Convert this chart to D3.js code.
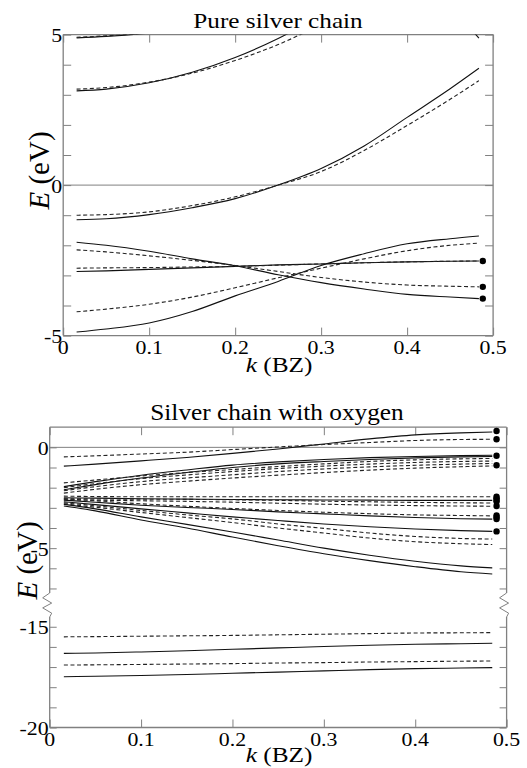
<!DOCTYPE html>
<html><head><meta charset="utf-8">
<script src="https://cdn.jsdelivr.net/npm/d3@7"></script>
<style>
body{margin:0;background:#fff}
svg{display:block}
.lbl{font-family:"Liberation Serif",serif}
</style>
</head><body><svg id="c" width="527" height="768"></svg>
<script>
// ---------- DATA ----------
const kTicks = [0, 0.1, 0.2, 0.3, 0.4, 0.5];
const kTickLabels = ["0", "0.1", "0.2", "0.3", "0.4", "0.5"];
const pureYTicks = [5, 4, 3, 2, 1, 0, -1, -2, -3, -4, -5];
const pureYLabels = [5, 0, -5];
const oxyYTicks = [0, -1, -2, -3, -4, -5, -6, -7, -15, -16, -17, -18, -19, -20];
const oxyYLabels = [0, -5, -15, -20];

// Pure silver chain: bands sampled on pureK
const pureK = [0.0156, 0.05, 0.1, 0.15, 0.2, 0.25, 0.3, 0.35, 0.4, 0.45, 0.4835];
const pureA_solid  = [4.89, 4.94, 5.05, 5.2, null, null, null, null, null, null, null];
const pureA_dash   = [4.91, 4.96, 5.06, 5.2, null, null, null, null, null, null, null];
const pureB_solid  = [3.13, 3.19, 3.40, 3.75, 4.24, 4.87, 5.64, null, null, null, null];
const pureB_dash   = [3.19, 3.24, 3.42, 3.72, 4.14, 4.67, 5.33, null, null, null, null];
const pureC_solid  = [-1.15, -1.12, -0.98, -0.75, -0.45, 0.0, 0.55, 1.3, 2.25, 3.2, 3.88];
const pureC_dash   = [-1.0, -0.98, -0.89, -0.68, -0.39, 0.0, 0.45, 1.15, 1.98, 2.85, 3.47];
const pureD_solid  = [-1.90, -2.0, -2.2, -2.45, -2.68, -2.98, -3.24, -3.45, -3.63, -3.72, -3.77];
const pureD_dash   = [-2.15, -2.22, -2.35, -2.5, -2.67, -2.87, -3.07, -3.22, -3.32, -3.36, -3.38];
const pureE_solid  = [-2.87, -2.85, -2.8, -2.75, -2.70, -2.65, -2.62, -2.58, -2.55, -2.53, -2.52];
const pureE_dash   = [-2.76, -2.75, -2.74, -2.72, -2.70, -2.66, -2.62, -2.58, -2.55, -2.53, -2.52];
const pureF_solid  = [-4.88, -4.78, -4.58, -4.2, -3.68, -3.2, -2.67, -2.28, -1.95, -1.78, -1.69];
const pureF_dash   = [-4.21, -4.12, -3.96, -3.72, -3.41, -3.08, -2.76, -2.45, -2.18, -2.0, -1.93];
const pureG_solid  = [null, null, null, null, null, null, null, null, null, 6.0, 4.88];
const pureDotK = 0.488;
const pureDotE = [-2.52, -3.38, -3.77];

// Silver chain with oxygen: bands sampled on oxyK
const oxyK = [0.0155, 0.05, 0.1, 0.15, 0.2, 0.25, 0.3, 0.35, 0.4, 0.45, 0.4843];
const oxyU1_solid = [-0.93, -0.83, -0.67, -0.5, -0.3, -0.08, 0.17, 0.42, 0.62, 0.72, 0.76];
const oxyU2_dash  = [-0.47, -0.42, -0.33, -0.24, -0.11, 0.02, 0.14, 0.24, 0.34, 0.39, 0.40];
const oxyR1_solid = [-1.95, -1.7, -1.38, -1.12, -0.88, -0.72, -0.6, -0.51, -0.45, -0.41, -0.39];
const oxyR2_solid = [-2.1, -1.85, -1.52, -1.25, -1.0, -0.82, -0.7, -0.6, -0.52, -0.47, -0.45];
const oxyR3_dash  = [-1.76, -1.62, -1.42, -1.25, -1.1, -0.95, -0.82, -0.7, -0.62, -0.57, -0.55];
const oxyR4_dash  = [-2.0, -1.8, -1.55, -1.37, -1.2, -1.05, -0.93, -0.83, -0.75, -0.7, -0.68];
const oxyR5_dash  = [-2.15, -1.95, -1.7, -1.52, -1.36, -1.2, -1.07, -0.97, -0.89, -0.83, -0.8];
const oxyR6_dash  = [-2.27, -2.08, -1.85, -1.68, -1.52, -1.38, -1.25, -1.13, -1.03, -0.96, -0.92];
const oxyF1_dash  = [-2.42, -2.44, -2.45, -2.45, -2.45, -2.45, -2.45, -2.45, -2.45, -2.45, -2.45];
const oxyF2_solid = [-2.5, -2.52, -2.55, -2.57, -2.59, -2.6, -2.61, -2.62, -2.63, -2.63, -2.63];
const oxyF3_dash  = [-2.55, -2.56, -2.57, -2.58, -2.6, -2.63, -2.67, -2.7, -2.73, -2.75, -2.76];
const oxyF4_dash  = [-2.6, -2.62, -2.65, -2.68, -2.72, -2.77, -2.82, -2.86, -2.89, -2.91, -2.92];
const oxyD1_dash  = [-2.55, -2.65, -2.8, -2.92, -3.03, -3.13, -3.22, -3.29, -3.35, -3.38, -3.40];
const oxyD2_solid = [-2.62, -2.72, -2.87, -2.98, -3.08, -3.2, -3.3, -3.4, -3.48, -3.54, -3.56];
const oxyD3_solid = [-2.7, -2.84, -3.05, -3.25, -3.45, -3.63, -3.8, -3.94, -4.05, -4.13, -4.17];
const oxyD4_dash  = [-2.75, -2.9, -3.13, -3.35, -3.55, -3.8, -4.02, -4.25, -4.42, -4.52, -4.55];
const oxyD5_dash  = [-2.8, -2.97, -3.23, -3.48, -3.73, -4.0, -4.25, -4.5, -4.68, -4.78, -4.82];
const oxyS1_solid = [-2.83, -3.05, -3.45, -3.82, -4.2, -4.6, -5.0, -5.35, -5.65, -5.88, -5.98];
const oxyS2_solid = [-2.91, -3.15, -3.6, -4.0, -4.45, -4.88, -5.28, -5.62, -5.92, -6.17, -6.28];
const oxyL1_dash  = [-15.5, -15.49, -15.47, -15.45, -15.43, -15.4, -15.37, -15.34, -15.31, -15.3, -15.29];
const oxyL2_solid = [-16.32, -16.3, -16.25, -16.19, -16.12, -16.05, -15.98, -15.92, -15.87, -15.84, -15.82];
const oxyL3_dash  = [-16.9, -16.89, -16.87, -16.85, -16.83, -16.8, -16.78, -16.75, -16.73, -16.71, -16.7];
const oxyL4_solid = [-17.48, -17.46, -17.42, -17.37, -17.31, -17.25, -17.19, -17.13, -17.08, -17.05, -17.03];
const oxyDotK = 0.489;
const oxyDotE = [0.81, 0.40, -0.42, -0.89, -2.45, -2.53, -2.61, -2.69, -2.91, -3.38, -3.47, -3.56, -4.17];

// ---------- DRAWING ----------
const FONT = "Liberation Serif";
const svg = d3.select("#c");
const FRAME = "#808080";
const INK = "#111";
const DASH = "4,2.6";

function txt(x, y, s, size, anchor, sx) {
  return svg.append("text")
    .attr("class", "lbl")
    .attr("transform", `translate(${x},${y}) scale(${sx},1)`)
    .attr("text-anchor", anchor)
    .attr("font-family", FONT)
    .style("font-family", "'Liberation Serif', serif")
    .attr("font-size", size)
    .attr("fill", "#000")
    .text(s);
}

function bandList(k, arr) {
  return arr.map(([vals, dashed]) => ({ pts: k.map((kk, i) => [kk, vals[i]]), dashed }));
}

function drawPanel(cfg) {
  const { x, y, L, R, T, B, bands, dotK, dotE, yTicks, yLabels, id, breakAxis } = cfg;
  const g = svg.append("g");
  svg.append("clipPath").attr("id", id).append("rect")
    .attr("x", L).attr("y", T).attr("width", R - L).attr("height", B - T);

  const tk = 8;
  g.append("g").attr("transform", `translate(0,${B})`)
    .call(d3.axisBottom(x).tickValues(kTicks).tickSize(-tk).tickFormat(""));
  g.append("g").attr("transform", `translate(0,${T})`)
    .call(d3.axisTop(x).tickValues(kTicks).tickSize(-tk).tickFormat(""));
  g.append("g").attr("transform", `translate(${L},0)`)
    .call(d3.axisLeft(y).tickValues(yTicks).tickSize(-cfg.ytk).tickFormat(""));
  g.append("g").attr("transform", `translate(${R},0)`)
    .call(d3.axisRight(y).tickValues(yTicks).tickSize(-cfg.ytk).tickFormat(""));
  g.selectAll(".domain").remove();
  g.selectAll(".tick line").attr("stroke", FRAME).attr("stroke-width", 1);

  g.append("line").attr("x1", L).attr("x2", R).attr("y1", y(0)).attr("y2", y(0))
    .attr("stroke", FRAME).attr("stroke-width", 1);

  const fr = g.append("g").attr("fill", "none").attr("stroke", FRAME).attr("stroke-width", 1.3);
  fr.append("line").attr("x1", L).attr("x2", R).attr("y1", T).attr("y2", T);
  fr.append("line").attr("x1", L).attr("x2", R).attr("y1", B).attr("y2", B);
  if (!breakAxis) {
    fr.append("line").attr("x1", L).attr("x2", L).attr("y1", T).attr("y2", B);
    fr.append("line").attr("x1", R).attr("x2", R).attr("y1", T).attr("y2", B);
  } else {
    const yb1 = breakAxis.y1, yb2 = breakAxis.y2;
    [L, R].forEach(X => {
      fr.append("line").attr("x1", X).attr("x2", X).attr("y1", T).attr("y2", yb1);
      fr.append("line").attr("x1", X).attr("x2", X).attr("y1", yb2).attr("y2", B);
      const h = (yb2 - yb1);
      const pts = [[X, yb1], [X - 7, yb1 + h * 0.2], [X + 2, yb1 + h * 0.42], [X - 7, yb1 + h * 0.62], [X + 2, yb1 + h * 0.84], [X, yb2]];
      fr.append("path").attr("d", d3.line()(pts)).attr("stroke-width", 1);
    });
  }

  const line = d3.line().defined(d => d[1] != null)
    .x(d => x(d[0])).y(d => y(d[1])).curve(d3.curveMonotoneX);
  const lg = svg.append("g").attr("clip-path", `url(#${id})`);
  lg.selectAll("path").data(bands).join("path")
    .attr("d", d => line(d.pts))
    .attr("fill", "none")
    .attr("stroke", d => d.dashed ? "#222" : INK)
    .attr("stroke-width", 1.1)
    .attr("stroke-dasharray", d => d.dashed ? DASH : null);

  svg.append("g").selectAll("circle").data(dotE).join("circle")
    .attr("cx", x(dotK)).attr("cy", d => y(d)).attr("r", 3.2).attr("fill", "#000");

  kTicks.forEach((kv, i) => txt(x(kv), B + 18, kTickLabels[i], 19, "middle", 1.15));
  yLabels.forEach(v => txt(L - 1, y(v) + 7.5, String(v), 19, "end", 1.15));
}

// ---------- Panel 1 ----------
const p1 = { L: 63.2, R: 493.1, T: 34.6, B: 335.6 };
const x1 = d3.scaleLinear().domain([0, 0.5]).range([p1.L, p1.R]);
const y1 = d3.scaleLinear().domain([-5, 5]).range([p1.B, p1.T]);
drawPanel({
  ...p1, x: x1, y: y1, id: "clip1", ytk: 8,
  yTicks: pureYTicks, yLabels: pureYLabels, dotK: pureDotK, dotE: pureDotE,
  bands: bandList(pureK, [
    [pureA_solid, false], [pureA_dash, true], [pureB_solid, false], [pureB_dash, true],
    [pureC_solid, false], [pureC_dash, true], [pureD_solid, false], [pureD_dash, true],
    [pureE_solid, false], [pureE_dash, true], [pureF_solid, false], [pureF_dash, true],
    [pureG_solid, false]
  ])
});

// ---------- Panel 2 ----------
const p2 = { L: 49.7, R: 506.6, T: 427.2, B: 727.5 };
const x2 = d3.scaleLinear().domain([0, 0.5]).range([p2.L, p2.R]);
const y2 = d3.scaleLinear().domain([1, -7.9, -14, -20]).range([p2.T, 606.6, 606.6, p2.B]);
drawPanel({
  ...p2, x: x2, y: y2, id: "clip2", ytk: 7,
  yTicks: oxyYTicks, yLabels: oxyYLabels, dotK: oxyDotK, dotE: oxyDotE,
  breakAxis: { y1: 593, y2: 617 },
  bands: bandList(oxyK, [
    [oxyU1_solid, false], [oxyU2_dash, true],
    [oxyR1_solid, false], [oxyR2_solid, false], [oxyR3_dash, true], [oxyR4_dash, true],
    [oxyR5_dash, true], [oxyR6_dash, true],
    [oxyF1_dash, true], [oxyF2_solid, false], [oxyF3_dash, true], [oxyF4_dash, true],
    [oxyD1_dash, true], [oxyD2_solid, false], [oxyD3_solid, false], [oxyD4_dash, true], [oxyD5_dash, true],
    [oxyS1_solid, false], [oxyS2_solid, false],
    [oxyL1_dash, true], [oxyL2_solid, false], [oxyL3_dash, true], [oxyL4_solid, false]
  ])
});

// ---------- Titles & axis labels ----------
txt(278, 27.6, "Pure silver chain", 21, "middle", 1.2);
txt(277, 419.5, "Silver chain with oxygen", 23, "middle", 1.1);

function kLabel(cx, by) {
  const t = svg.append("text").attr("class", "lbl")
    .attr("transform", `translate(${cx},${by}) scale(1.15,1)`)
    .attr("text-anchor", "middle").attr("font-family", FONT)
    .style("font-family", "'Liberation Serif', serif")
    .attr("font-size", 22).attr("fill", "#000");
  t.append("tspan").attr("font-style", "italic").text("k");
  t.append("tspan").text(" (BZ)");
}
kLabel(279, 372);
kLabel(279, 762);

function eLabel(bx, cy) {
  const t = svg.append("text").attr("class", "lbl")
    .attr("transform", `translate(${bx},${cy}) rotate(-90)`)
    .attr("text-anchor", "middle").attr("font-family", FONT)
    .style("font-family", "'Liberation Serif', serif")
    .attr("font-size", 29).attr("fill", "#000");
  t.append("tspan").attr("font-style", "italic").text("E");
  t.append("tspan").text(" (eV)");
}
eLabel(49, 170.5);
eLabel(37, 560.5);
</script>
</body></html>
